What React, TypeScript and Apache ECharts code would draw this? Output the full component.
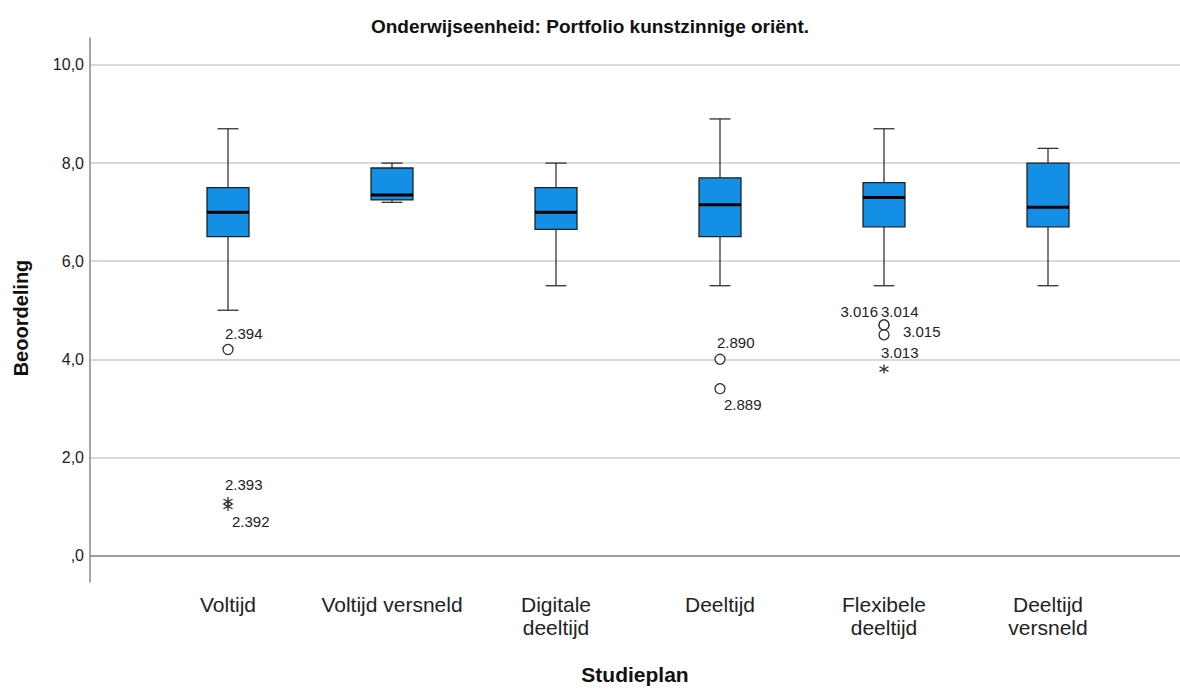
import React, { useEffect, useRef } from 'react';
import * as echarts from 'echarts';

// ---- data ----
const categories = ['Voltijd', 'Voltijd versneld', 'Digitale\ndeeltijd', 'Deeltijd', 'Flexibele\ndeeltijd', 'Deeltijd\nversneld'];
const whiskerLow = [5.0, 7.2, 5.5, 5.5, 5.5, 5.5];
const q1 = [6.5, 7.25, 6.65, 6.5, 6.7, 6.7];
const median = [7.0, 7.35, 7.0, 7.15, 7.3, 7.1];
const q3 = [7.5, 7.9, 7.5, 7.7, 7.6, 8.0];
const whiskerHigh = [8.7, 8.0, 8.0, 8.9, 8.7, 8.3];

const outlierCat = [0, 3, 3, 4, 4, 4];
const outlierValue = [4.2, 4.0, 3.4, 4.7, 4.7, 4.5];
const outlierId = ['2.394', '2.890', '2.889', '3.016', '3.014', '3.015'];

const extremeCat = [0, 0, 4];
const extremeValue = [1.1, 1.0, 3.8];
const extremeId = ['2.393', '2.392', '3.013'];

const yTicks = [0, 2, 4, 6, 8, 10];
const yMin = -0.54;
const yMax = 10.55;

// ---- label placement (style) ----
const labelPlacement: Record<string, { align: string; offset: number[] }> = {
  '2.394': { align: 'left', offset: [-3, -16] },
  '2.890': { align: 'left', offset: [-3, -17] },
  '2.889': { align: 'left', offset: [4, 16] },
  '3.016': { align: 'right', offset: [-6, -13] },
  '3.014': { align: 'left', offset: [-3, -13] },
  '3.015': { align: 'left', offset: [19, -3] },
  '2.393': { align: 'left', offset: [-3, -17] },
  '2.392': { align: 'left', offset: [4, 15] },
  '3.013': { align: 'left', offset: [-3, -17] },
};

const FONT = '"Liberation Sans", Arial, sans-serif';
const BOX_FILL = '#138fe6';
const ASTERISK = 'path://M0,-5L0,5M-4.6,-2.6L4.6,2.6M-4.6,2.6L4.6,-2.6';

function pointData(cats: number[], vals: number[], ids: string[]) {
  return cats.map((c, i) => {
    const p = labelPlacement[ids[i]];
    return {
      name: ids[i],
      value: [c, vals[i]],
      label: {
        show: true,
        position: 'inside',
        formatter: ids[i],
        align: p.align,
        verticalAlign: 'middle',
        offset: p.offset,
        fontFamily: FONT,
        fontSize: 15,
        color: '#222',
      },
    };
  });
}

export default function App() {
  const ref = useRef<HTMLDivElement>(null);
  useEffect(() => {
    document.body.style.margin = '0';
    const chart = echarts.init(ref.current!, null, { renderer: 'svg' });
    const boxData = categories.map((_, i) => [i, whiskerLow[i], q1[i], median[i], q3[i], whiskerHigh[i]]);
    const option: any = {
      animation: false,
      backgroundColor: '#fff',
      title: {
        text: 'Onderwijseenheid: Portfolio kunstzinnige oriënt.',
        left: 'center',
        top: 12,
        textStyle: { fontFamily: FONT, fontWeight: 'bold', fontSize: 19, color: '#111' },
      },
      grid: [
        { left: 90, right: 0, top: 38, bottom: 107, containLabel: false, outerBoundsMode: 'none' },
        { left: 146, right: 50, top: 38, bottom: 107, containLabel: false, outerBoundsMode: 'none' },
      ],
      xAxis: [
        {
          type: 'value', gridIndex: 0, min: 0, max: 1,
          axisLine: { show: true, lineStyle: { color: '#888', width: 1.5 } },
          axisTick: { show: false }, axisLabel: { show: false }, splitLine: { show: false },
          name: 'Studieplan', nameLocation: 'middle', nameGap: 82, nameMoveOverlap: false,
          nameTextStyle: { fontFamily: FONT, fontWeight: 'bold', fontSize: 21, color: '#111' },
        },
        {
          type: 'category', gridIndex: 1, data: categories,
          axisLine: { show: false }, axisTick: { show: false }, splitLine: { show: false },
          axisLabel: { fontFamily: FONT, fontSize: 21, color: '#222', margin: 11, lineHeight: 23, interval: 0 },
        },
      ],
      yAxis: [
        {
          type: 'value', gridIndex: 0, min: yMin, max: yMax,
          axisLine: { show: true, lineStyle: { color: '#888', width: 1.5 } },
          axisTick: { show: false, customValues: yTicks },
          axisLabel: {
            customValues: yTicks,
            formatter: (v: number) => (v === 0 ? ',0' : v.toFixed(1).replace('.', ',')),
            fontFamily: FONT, fontSize: 16, color: '#222', margin: 6,
          },
          splitLine: { show: true, lineStyle: { color: '#cccccc', width: 1.5 } },
          name: 'Beoordeling', nameLocation: 'middle', nameGap: 59, nameRotate: 90, nameMoveOverlap: false,
          nameTextStyle: { fontFamily: FONT, fontWeight: 'bold', fontSize: 20, color: '#111', padding: [0, 16, 0, 0] },
        },
        { type: 'value', gridIndex: 1, min: yMin, max: yMax, show: false },
      ],
      series: [
        {
          type: 'custom',
          xAxisIndex: 1, yAxisIndex: 1,
          data: boxData,
          encode: { x: 0, y: [1, 2, 3, 4, 5] },
          renderItem: (params: any, api: any) => {
            const i = api.value(0);
            const lo = api.coord([i, api.value(1)]);
            const b1 = api.coord([i, api.value(2)]);
            const md = api.coord([i, api.value(3)]);
            const b3 = api.coord([i, api.value(4)]);
            const hi = api.coord([i, api.value(5)]);
            const band = api.size([1, 0])[0];
            const half = band * 0.128;
            const cap = half / 2;
            const cx = lo[0];
            const ls = { stroke: '#333', lineWidth: 1.3 };
            return {
              type: 'group',
              children: [
                { type: 'line', shape: { x1: cx, y1: hi[1], x2: cx, y2: b3[1] }, style: ls },
                { type: 'line', shape: { x1: cx, y1: b1[1], x2: cx, y2: lo[1] }, style: ls },
                { type: 'line', shape: { x1: cx - cap, y1: hi[1], x2: cx + cap, y2: hi[1] }, style: ls },
                { type: 'line', shape: { x1: cx - cap, y1: lo[1], x2: cx + cap, y2: lo[1] }, style: ls },
                {
                  type: 'rect',
                  shape: { x: cx - half, y: b3[1], width: half * 2, height: b1[1] - b3[1] },
                  style: { fill: BOX_FILL, stroke: '#222', lineWidth: 1.3 },
                },
                { type: 'line', shape: { x1: cx - half, y1: md[1], x2: cx + half, y2: md[1] }, style: { stroke: '#000', lineWidth: 3 } },
              ],
            };
          },
        },
        {
          type: 'scatter',
          xAxisIndex: 1, yAxisIndex: 1,
          symbol: 'circle', symbolSize: 10,
          itemStyle: { color: '#fff', borderColor: '#333', borderWidth: 1.3, opacity: 1 },
          data: pointData(outlierCat, outlierValue, outlierId),
        },
        {
          type: 'scatter',
          xAxisIndex: 1, yAxisIndex: 1,
          symbol: ASTERISK, symbolSize: 9,
          itemStyle: { color: 'transparent', borderColor: '#333', borderWidth: 1.3, opacity: 1 },
          data: pointData(extremeCat, extremeValue, extremeId),
        },
      ],
    };
    chart.setOption(option);
    return () => chart.dispose();
  }, []);
  return <div ref={ref} style={{ width: 1180, height: 689 }} />;
}
